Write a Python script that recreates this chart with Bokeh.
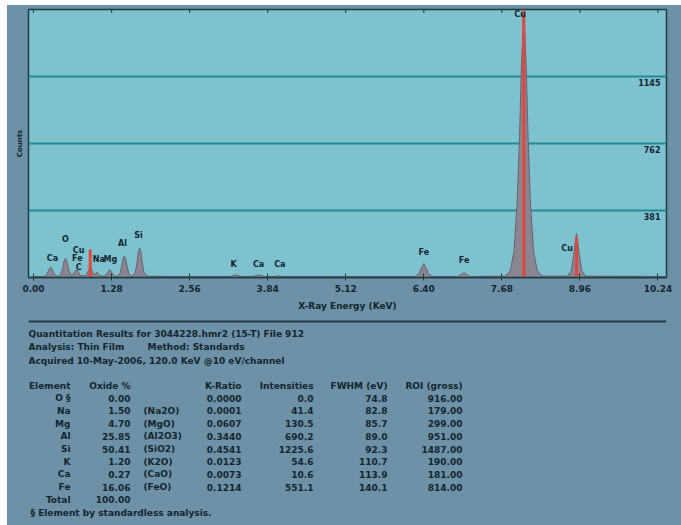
from bokeh.plotting import figure
from bokeh.models import Range1d, FixedTicker, PrintfTickFormatter
from bokeh.layouts import column
from bokeh.embed import file_html
from bokeh.resources import INLINE
from bokeh.core.properties import value

# ---------------- data ----------------
spectrum_keV = [0.00, 0.10, 0.18, 0.22, 0.26, 0.28, 0.30, 0.34, 0.38,
                0.43, 0.47, 0.50, 0.525, 0.55, 0.58, 0.62,
                0.64, 0.68, 0.705, 0.73, 0.77,
                0.86, 0.90, 0.93, 0.96, 1.00, 1.04, 1.08, 1.13,
                1.17, 1.21, 1.25, 1.29, 1.33,
                1.38, 1.42, 1.45, 1.47, 1.49, 1.51, 1.53, 1.56, 1.60,
                1.62, 1.67, 1.70, 1.72, 1.74, 1.76, 1.78, 1.81, 1.86,
                2.20, 3.22, 3.31, 3.40, 3.60, 3.69, 3.78, 3.95, 4.01, 4.07,
                6.26, 6.32, 6.37, 6.40, 6.43, 6.48, 6.54,
                6.96, 7.02, 7.06, 7.10, 7.16,
                7.74, 7.82, 7.88, 7.93, 7.97, 8.00, 8.04, 8.08, 8.11, 8.15, 8.20, 8.26, 8.34,
                8.76, 8.82, 8.86, 8.89, 8.905, 8.92, 8.95, 8.99, 9.05,
                10.38]
spectrum_counts = [6, 6, 6, 20, 50, 60, 50, 20, 8,
                   8, 40, 90, 110, 90, 40, 10,
                   10, 35, 45, 35, 10,
                   10, 40, 60, 40, 15, 30, 12, 8,
                   8, 25, 45, 25, 8,
                   8, 25, 70, 110, 122, 110, 70, 25, 8,
                   8, 30, 90, 150, 168, 150, 90, 30, 8,
                   6, 6, 15, 6, 6, 15, 6, 6, 10, 6,
                   6, 20, 60, 80, 60, 20, 6,
                   6, 18, 28, 18, 6,
                   8, 40, 150, 420, 800, 1200, 1527, 1200, 800, 420, 150, 40, 8,
                   8, 40, 130, 220, 251, 220, 130, 40, 8,
                   6]

x_ticks = [0.00, 1.28, 2.56, 3.84, 5.12, 6.40, 7.68, 8.96, 10.24]
y_ticks = [381, 762, 1145]
y_tick_labels = ["381", "762", "1145"]

marker_keV = [0.93, 8.04, 8.905]
marker_counts = [160, 1527, 230]

peak_label_text = ["Ca", "O", "Cu", "Fe", "C", "Na", "Mg", "Al", "Si",
                   "K", "Ca", "Ca", "Fe", "Fe", "Cu", "Cu"]
peak_label_keV = [0.31, 0.525, 0.74, 0.72, 0.74, 1.07, 1.26, 1.46, 1.72,
                  3.28, 3.69, 4.04, 6.40, 7.06, 7.98, 8.75]
peak_label_counts = [108, 217, 154, 108, 57, 103, 103, 194, 240,
                     74, 74, 74, 143, 97, 1500, 165]

header_lines = ["Quantitation Results for 3044228.hmr2 (15-T) File 912",
                "Analysis: Thin Film",
                "Acquired 10-May-2006, 120.0 KeV @10 eV/channel"]
method_text = "Method: Standards"

table_headers = ["Element", "Oxide %", "K-Ratio", "Intensities", "FWHM (eV)", "ROI (gross)"]
elements = ["O \u00a7", "Na", "Mg", "Al", "Si", "K", "Ca", "Fe"]
oxide_pct = [0.00, 1.50, 4.70, 25.85, 50.41, 1.20, 0.27, 16.06]
oxide_formula = ["", "(Na2O)", "(MgO)", "(Al2O3)", "(SiO2)", "(K2O)", "(CaO)", "(FeO)"]
k_ratio = [0.0000, 0.0001, 0.0607, 0.3440, 0.4541, 0.0123, 0.0073, 0.1214]
intensities = [0.0, 41.4, 130.5, 690.2, 1225.6, 54.6, 10.6, 551.1]
fwhm_eV = [74.8, 82.8, 85.7, 89.0, 92.3, 110.7, 113.9, 140.1]
roi_gross = [916.00, 179.00, 299.00, 951.00, 1487.00, 190.00, 181.00, 814.00]
total_pct = 100.00
footnote = "\u00a7 Element by standardless analysis."

# ---------------- style ----------------
FONT = "DejaVu Sans"
OUTER = "#6d91a6"
PLOT_BG = "#7ec1cf"
GRID = "#208c96"
FRAME = "#1c3c44"
TEXT = "#14252e"
PEAK = "#8b8591"
PEAK_EDGE = "#6a6270"
RED = "#e0483e"

X0, X1 = -0.082, 10.38
Y0, Y1 = 0, 1527
W = 674
BL, BR = 21, 15

p = figure(width=W, height=309, x_range=Range1d(X0, X1), y_range=Range1d(Y0, Y1),
           output_backend="svg", toolbar_location=None,
           min_border_left=BL, min_border_right=BR, min_border_top=4, min_border_bottom=37,
           background_fill_color=PLOT_BG, border_fill_color=OUTER,
           outline_line_color=FRAME, outline_line_width=1.5)

p.xgrid.visible = False
p.ygrid.ticker = FixedTicker(ticks=y_ticks)
p.ygrid.grid_line_color = GRID
p.ygrid.grid_line_width = 2

xa = p.xaxis[0]
xa.ticker = FixedTicker(ticks=x_ticks)
xa.formatter = PrintfTickFormatter(format="%.2f")
xa.axis_label = "X-Ray Energy (KeV)"
xa.axis_label_text_font = FONT
xa.axis_label_text_font_size = "9px"
xa.axis_label_text_font_style = "bold"
xa.axis_label_text_color = TEXT
xa.axis_label_standoff = 6
xa.major_label_text_font = FONT
xa.major_label_text_font_size = "9px"
xa.major_label_text_font_style = "bold"
xa.major_label_text_color = TEXT
xa.major_label_standoff = 4
xa.major_tick_in = 4
xa.major_tick_out = 3
xa.major_tick_line_color = FRAME
xa.minor_tick_line_color = None
xa.axis_line_color = FRAME
xa.axis_line_width = 1.5

ya = p.yaxis[0]
ya.ticker = FixedTicker(ticks=[])
ya.axis_label = "Counts"
ya.axis_label_text_font = FONT
ya.axis_label_text_font_size = "7px"
ya.axis_label_text_font_style = "bold"
ya.axis_label_text_color = TEXT
ya.axis_label_standoff = 5
ya.axis_line_color = None
ya.major_tick_line_color = None
ya.minor_tick_line_color = None
ya.major_label_standoff = 0

# small tick marks along the top edge of the frame, at the x tick positions
top_tick_len = (Y1 - Y0) * 0.012
p.segment(x0=x_ticks, y0=[Y1] * len(x_ticks), x1=x_ticks, y1=[Y1 - top_tick_len] * len(x_ticks),
          line_color=FRAME, line_width=1.2)

p.varea(x=spectrum_keV, y1=0, y2=spectrum_counts, fill_color=PEAK, fill_alpha=1.0)
p.line(spectrum_keV, spectrum_counts, line_color=PEAK_EDGE, line_width=1)
p.segment(x0=marker_keV, y0=0, x1=marker_keV, y1=marker_counts, line_color=RED, line_width=3)

p.text(x=peak_label_keV, y=peak_label_counts, text=peak_label_text,
       text_font=value(FONT), text_font_size="8px", text_font_style="bold",
       text_align="center", text_baseline="middle", text_color=TEXT)
p.text(x=[X1] * len(y_ticks), y=y_ticks, text=y_tick_labels, x_offset=-6, y_offset=6,
       text_font=value(FONT), text_font_size="8px", text_font_style="bold",
       text_align="right", text_baseline="middle", text_color=TEXT)

# ---------------- table panel ----------------
# the column layout aligns this panel's frame with the spectrum frame,
# so its x data range is expressed in figure pixels over that frame
TH = 211
t = figure(width=W, height=TH, x_range=Range1d(BL, W - BR), y_range=Range1d(TH, 0),
           output_backend="svg", toolbar_location=None, min_border=0,
           min_border_left=BL, min_border_right=BR,
           x_axis_type=None, y_axis_type=None,
           background_fill_color=OUTER, background_fill_alpha=0.0,
           border_fill_color=OUTER, outline_line_color=None)
t.grid.visible = False

t.segment(x0=[21], y0=[7], x1=[659], y1=[7], line_color=FRAME, line_width=2)


def txt(xs, ys, ss, align="left"):
    t.text(x=xs, y=ys, text=ss, text_font=value(FONT), text_font_size="9px",
           text_font_style="bold", text_align=align, text_baseline="middle",
           text_color=TEXT)


txt([21, 21, 21], [19, 32, 46], header_lines)
txt([140], [32], [method_text])

row0 = 71
dy = 12.7
cols_right = [63, 123, 234, 306, 380, 455]
txt(cols_right, [row0] * 6, table_headers, align="right")

rows_y = [row0 + dy * (i + 1) for i in range(len(elements))]
txt([63] * len(elements), rows_y, elements, align="right")
txt([123] * len(elements), rows_y, ["%.2f" % v for v in oxide_pct], align="right")
txt([136] * len(elements), rows_y, oxide_formula)
txt([234] * len(elements), rows_y, ["%.4f" % v for v in k_ratio], align="right")
txt([306] * len(elements), rows_y, ["%.1f" % v for v in intensities], align="right")
txt([380] * len(elements), rows_y, ["%.1f" % v for v in fwhm_eV], align="right")
txt([455] * len(elements), rows_y, ["%.2f" % v for v in roi_gross], align="right")

total_y = row0 + dy * (len(elements) + 1)
txt([63], [total_y], ["Total"], align="right")
txt([123], [total_y], ["%.2f" % total_pct], align="right")
txt([23], [total_y + dy], [footnote])

layout = column(p, t, spacing=0, margin=(5, 0, 0, 7),
                styles={"background-color": OUTER})
open("out.html", "w").write(file_html(layout, INLINE))
